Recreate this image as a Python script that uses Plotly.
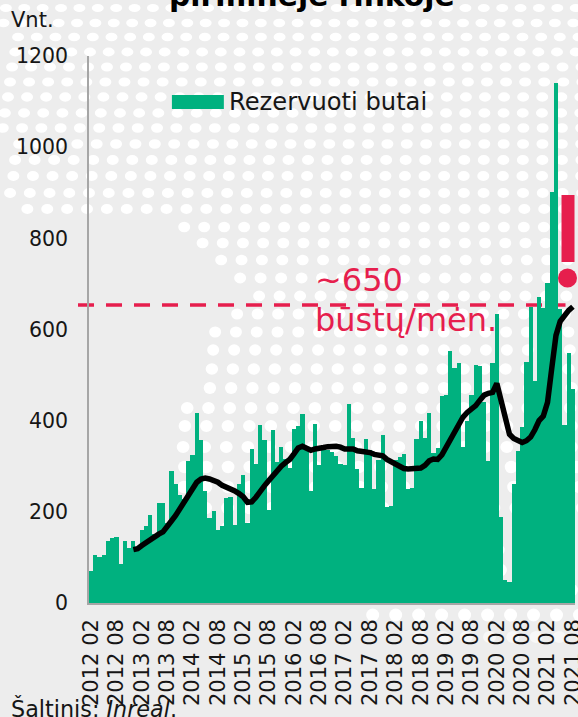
import plotly.graph_objects as go

W, H = 578, 717
AX_L, AX_R, AX_T, AX_B = 89.0, 575.5, 56.0, 603.0
FONT = "DejaVu Sans"
INK = "#161616"
GREEN = "#00B17F"
RED = "#E61E4D"
BG = "#EDEDED"

years = range(2012, 2022)
months = [f"{y} {m:02d}" for y in years for m in range(1, 13)][1:116]
tick_labels = [m for m in months if m[-2:] in ("02", "08")]
y_ticks = [0, 200, 400, 600, 800, 1000, 1200]

reserved = [
    70, 106, 102, 106, 137, 143, 145, 86, 136, 120, 137, 119, 161, 168, 193, 152, 220, 219, 176, 290,
    260, 236, 229, 311, 324, 416, 357, 245, 186, 201, 161, 170, 230, 232, 172, 260, 280, 176, 337, 305,
    390, 357, 205, 379, 309, 342, 316, 297, 382, 388, 414, 338, 245, 393, 302, 338, 335, 331, 322, 305,
    302, 436, 362, 295, 252, 360, 335, 250, 314, 369, 211, 213, 313, 320, 327, 251, 253, 360, 400, 363,
    416, 330, 340, 455, 457, 553, 516, 527, 343, 400, 456, 523, 520, 441, 312, 526, 634, 189, 50, 47,
    261, 334, 387, 528, 650, 488, 671, 648, 703, 902, 1140, 646, 390, 549, 469,
]
trend_start = 10
trend = [
    117, 119, 126, 133, 140, 145, 151, 156, 166, 180, 192, 206, 221, 238, 253, 265, 272, 274, 272, 270,
    265, 258, 255, 252, 246, 240, 233, 221, 222, 232, 247, 257, 268, 280, 290, 300, 308, 315, 327, 340,
    344, 340, 335, 338, 341, 341, 343, 344, 344, 342, 338, 338, 338, 334, 333, 333, 330, 326, 325, 323,
    315, 310, 305, 299, 295, 294, 294, 294, 296, 302, 312, 316, 315, 325, 342, 357, 374, 392, 408, 418,
    424, 433, 445, 456, 460, 462, 482, 443, 400, 370, 361, 355, 352, 356, 364, 380, 400, 410, 440, 515,
    587, 618, 632, 642, 650,
]
target = 654

# Background dot pattern rows: pixel y, column spacing, one dot's x, leftmost x, rx, ry, opacity
dot_rows = [
    (8, 18.4, 61, 0, 6, 4, 1), (23, 18.4, 77, 0, 6, 4.2, 1), (37, 18.7, 18, 0, 6, 4.3, 1),
    (52, 18.7, 90, 0, 6, 4.4, 1), (67, 19.0, 107, 0, 6, 4.5, 1), (82, 19.1, 29, 0, 6, 4.6, 1),
    (97, 19.1, 27, 0, 6, 4.7, 1), (113, 19.2, 24, 0, 6, 4.7, 1), (128, 19.3, 22, 0, 6, 4.8, 1),
    (144, 19.4, 77.3, 0, 6, 4.8, 1), (160, 19.55, 15, 0, 6, 4.9, 1), (176, 19.6, 13.3, 0, 6, 5, 1),
    (193, 19.75, 10, 0, 6, 5, 1), (209, 19.9, 27.3, 20, 6, 5, 1), (227, 20.0, 184.3, 178, 6, 5.2, 1),
    (243, 20.2, 202.7, 197, 6, 5.2, 1), (260, 20.4, 221.3, 215, 6, 5.3, 1), (278, 20.5, 240.3, 234, 6, 5.4, 1),
    (296, 20.5, 259.3, 253, 6, 5.4, 1), (314, 20.5, 237.3, 231, 6, 5.5, 1), (332, 20.8, 215.3, 209, 6, 5.6, 1),
    (350, 21.0, 213.3, 207, 6, 5.7, 1), (369, 21.0, 212, 206, 6.2, 5.8, 1), (388, 21.3, 210, 204, 6.2, 5.9, 1),
    (408, 21.3, 187.3, 181, 6.3, 6, 1), (426, 21.5, 185, 179, 6.3, 6, 1), (447, 21.6, 248, 179, 6.4, 6, 1),
    (467, 21.8, 250, 179, 6.4, 6.2, 1), (487, 22.0, 250, 179, 6.4, 6.2, 1), (508, 22.2, 250, 179, 6.5, 6.3, 1),
    (528, 22.4, 250, 179, 6.5, 6.3, 1), (550, 22.6, 250, 179, 6.5, 6.4, 1), (570, 22.8, 250, 179, 6.5, 6.4, 1),
    (590, 23.0, 250, 179, 6.5, 6.5, 1), (615, 23.0, 373, 366, 6.5, 6.5, 1), (637, 23.3, 420, 412, 6.5, 6, 0.6),
]


def px(x):
    return (x - AX_L) / (AX_R - AX_L)


def py(y):
    return (AX_B - y) / (AX_B - AX_T)


shapes = []
for y, step, ref, xmin, rx, ry, op in dot_rows:
    x = ref
    while x - step >= xmin:
        x -= step
    while x < W + 8:
        shapes.append(dict(type="circle", layer="below", xref="paper", yref="paper",
                           x0=px(x - rx), x1=px(x + rx), y0=py(y + ry), y1=py(y - ry),
                           fillcolor="white", opacity=op, line_width=0))
        x += step

shapes.append(dict(type="line", layer="below", xref="paper", yref="y", x0=px(78), x1=px(566),
                   y0=target, y1=target, line=dict(color=RED, width=3.5, dash="16px,12px")))
shapes.append(dict(type="rect", xref="paper", yref="paper", x0=px(562), x1=px(575), y0=py(262), y1=py(195),
                   fillcolor=RED, line_width=0))
shapes.append(dict(type="circle", xref="paper", yref="paper", x0=px(558.5), x1=px(577.5), y0=py(287.5), y1=py(268.5),
                   fillcolor=RED, line_width=0))
shapes.append(dict(type="rect", xref="paper", yref="paper", x0=px(172), x1=px(224), y0=py(109), y1=py(95),
                   fillcolor=GREEN, line_width=0))


def label(text, x, y, size, color=INK, anchor="middle", xanchor="left"):
    return dict(text=text, x=px(x), y=py(y), xref="paper", yref="paper", showarrow=False,
                xanchor=xanchor, yanchor=anchor, font=dict(family=FONT, size=size, color=color),
                borderpad=0, borderwidth=0)


annotations = [
    label("<b>pirminėje rinkoje</b>", 312, 13, 29.8, "#000000", "bottom", "center"),
    label("Vnt.", 11, 20, 21),
    label("Rezervuoti butai", 229, 102, 24.2),
    label("~650", 315, 280, 32, RED),
    label("būstų/mėn.", 315, 320, 32, RED),
    label("Šaltinis: <i>Inreal</i>.", 11, 708, 22.3),
]

fig = go.Figure()
fig.add_bar(x=months, y=reserved, marker=dict(color=GREEN, line_width=0), name="Rezervuoti butai",
            showlegend=False)
fig.add_scatter(x=months[trend_start:], y=trend, mode="lines", line=dict(color="black", width=5.5),
                showlegend=False)
fig.update_layout(
    width=W, height=H, autosize=False,
    margin=dict(l=AX_L, r=W - AX_R, t=AX_T, b=H - AX_B, pad=0, autoexpand=False),
    paper_bgcolor=BG, plot_bgcolor="rgba(0,0,0,0)",
    bargap=0, showlegend=False, shapes=shapes, annotations=annotations,
    font=dict(family=FONT, color=INK),
    xaxis=dict(type="category", categoryorder="array", categoryarray=months,
               tickmode="array", tickvals=tick_labels, ticktext=tick_labels, automargin=False,
               tickangle=-90, tickfont=dict(size=21), ticks="", showgrid=False,
               showline=True, linecolor="#A6A6A6", linewidth=1.5, range=[-0.5, 114.5],
               ticklabelstandoff=6, zeroline=False),
    yaxis=dict(range=[0, 1200], tickmode="array", tickvals=y_ticks, tickfont=dict(size=20.5), automargin=False,
               ticks="", showgrid=False, showline=True, linecolor="#A6A6A6", linewidth=1.5,
               ticklabelstandoff=15, zeroline=False),
)
fig.write_html("out.html", config=dict(displayModeBar=False),
               post_script="document.body.style.margin='0';document.documentElement.style.overflow='hidden';")
